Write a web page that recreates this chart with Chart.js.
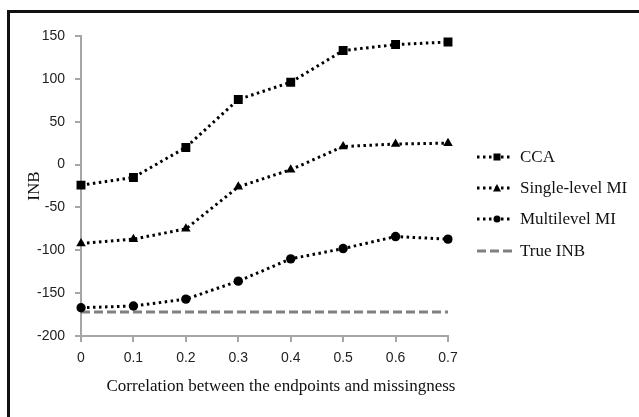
<!DOCTYPE html>
<html>
<head>
<meta charset="utf-8">
<script src="https://cdn.jsdelivr.net/npm/chart.js@4/dist/chart.umd.min.js"></script>
<style>
  html, body { margin: 0; padding: 0; background: #fff; }
  #wrap { position: relative; width: 639px; height: 417px; overflow: hidden; background: #fff; }
  #frame { position: absolute; left: 7px; top: 10px; width: 700px; height: 500px;
           border-left: 3px solid #111; border-top: 3px solid #111; box-sizing: border-box; }
  canvas#c { position: absolute; left: 0; top: 0; }
  #xtitle { position: absolute; left: 81px; width: 400px; top: 376px; text-align: center;
            font: 17px "Liberation Serif", "Times New Roman", serif; color: #111; white-space: nowrap; }
  #legend { position: absolute; left: 475px; top: 141px; font: 17px "Liberation Serif", "Times New Roman", serif; color: #111; }
  .row { height: 31.3px; display: flex; align-items: center; white-space: nowrap; }
  .row svg { width: 40px; height: 14px; margin-right: 5px; }
</style>
</head>
<body>
<div id="wrap">
  <canvas id="c" width="639" height="417"></canvas>
  <div id="frame"></div>
  <div id="xtitle"></div>
  <div id="legend"></div>
</div>
<script>
// ---- data ----
const categories = ["0", "0.1", "0.2", "0.3", "0.4", "0.5", "0.6", "0.7"];
const ccaValues = [-24, -15, 20, 76, 96, 133, 140, 143];
const singleLevelValues = [-92, -87, -75, -26, -6, 21, 24, 25];
const multilevelValues = [-167, -165, -157, -136, -110, -98, -84, -87];
const trueInbValue = -172;
const yTicksMin = -200, yTicksMax = 150, yTicksStep = 50;
const seriesNames = ["CCA", "Single-level MI", "Multilevel MI", "True INB"];
const yTitle = "INB";
const xTitle = "Correlation between the endpoints and missingness";

const trueInbValues = categories.map(() => trueInbValue);

const dotted = {
  borderColor: '#000', backgroundColor: '#000', borderWidth: 3,
  borderDash: [2.5, 3.5], fill: false, tension: 0,
  pointBorderColor: '#000', pointBackgroundColor: '#000', pointBorderWidth: 0
};

const datasets = [
  Object.assign({}, dotted, { label: seriesNames[0], data: ccaValues, pointStyle: 'rect', pointRadius: 6.3 }),
  Object.assign({}, dotted, { label: seriesNames[1], data: singleLevelValues, pointStyle: 'triangle', pointRadius: 5.5 }),
  Object.assign({}, dotted, { label: seriesNames[2], data: multilevelValues, pointStyle: 'circle', pointRadius: 4.7 }),
  { label: seriesNames[3], data: trueInbValues, borderColor: '#808080', borderWidth: 3,
    borderDash: [9, 4], pointRadius: 0, fill: false, tension: 0 }
];

const axisGray = '#a6a6a6';
const tickFont = { family: '"Liberation Sans", Arial, sans-serif', size: 14 };

const chart = new Chart(document.getElementById('c'), {
  type: 'line',
  data: { labels: categories, datasets: datasets },
  options: {
    responsive: false,
    animation: false,
    layout: { padding: { left: 0, top: 36, right: 191, bottom: 0 } },
    plugins: { legend: { display: false }, tooltip: { enabled: false } },
    scales: {
      x: {
        type: 'category', offset: false,
        grid: { display: true, drawOnChartArea: false, color: axisGray, lineWidth: 2, tickLength: 6 },
        border: { color: axisGray, width: 2 },
        ticks: { color: '#222', font: tickFont, padding: 8, maxRotation: 0 },
        afterFit: s => { s.height = 81; }
      },
      y: {
        min: yTicksMin, max: yTicksMax,
        grid: { display: true, drawOnChartArea: false, color: axisGray, lineWidth: 2, tickLength: 6 },
        border: { color: axisGray, width: 2 },
        ticks: { stepSize: yTicksStep, color: '#222', font: tickFont, padding: 10 },
        title: { display: true, text: yTitle, color: '#111',
                 font: { family: '"Liberation Serif", "Times New Roman", serif', size: 17 },
                 padding: { top: 24, bottom: 0 } },
        afterFit: s => { s.width = 81; }
      }
    }
  }
});

// x-axis title
document.getElementById('xtitle').textContent = xTitle;

// legend built from datasets
const legend = document.getElementById('legend');
const markerSvg = (ds) => {
  const cx = 22, cy = 7;
  let m = '';
  if (ds.pointStyle === 'rect') m = `<rect x="${cx-3.5}" y="${cy-3.5}" width="7" height="7" fill="#000"/>`;
  else if (ds.pointStyle === 'triangle') m = `<polygon points="${cx},${cy-4} ${cx+4},${cy+3.5} ${cx-4},${cy+3.5}" fill="#000"/>`;
  else if (ds.pointStyle === 'circle') m = `<circle cx="${cx}" cy="${cy}" r="3.5" fill="#000"/>`;
  const dash = ds.borderDash.join(',');
  return `<svg viewBox="0 0 40 14"><line x1="2" y1="7" x2="38" y2="7" stroke="${ds.borderColor}" stroke-width="3" stroke-dasharray="${dash}"/>${m}</svg>`;
};
datasets.forEach(ds => {
  const row = document.createElement('div');
  row.className = 'row';
  row.innerHTML = markerSvg(ds);
  const span = document.createElement('span');
  span.textContent = ds.label;
  row.appendChild(span);
  legend.appendChild(row);
});
</script>
</body>
</html>
